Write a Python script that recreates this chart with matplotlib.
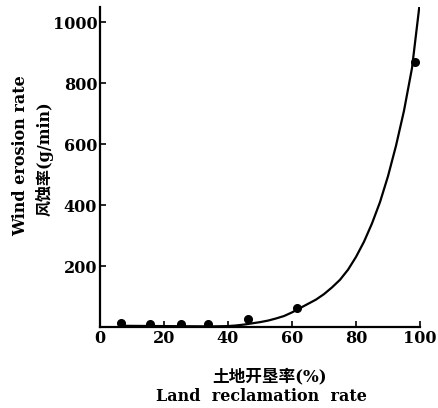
import matplotlib.pyplot as plt

# measured points
rate = [6.5, 15.6, 25.3, 33.8, 46.4, 61.6, 98.4]
erosion = [12, 11, 11, 11, 26, 62, 869]

# fitted curve
curve_x = [6, 20, 35, 40, 42.5, 45, 47.5, 50, 52.5, 55, 57.5, 60, 62.5, 65,
           67.5, 70, 72.5, 75, 77.5, 80, 82.5, 85, 87.5, 90, 92.5, 95, 97.5, 100]
curve_y = [4, 3, 2, 3, 5, 8, 12, 16, 21, 28, 36, 48, 62, 76,
           90, 108, 130, 155, 188, 230, 280, 340, 410, 495, 595, 710, 850, 1070]

xticks = [0, 20, 40, 60, 80, 100]
yticks = [200, 400, 600, 800, 1000]

fam = ['DejaVu Serif', 'Noto Sans CJK SC']

fig = plt.figure(figsize=(4.38, 4.08), dpi=100)
ax = fig.add_axes([0.2283, 0.1985, 0.7306, 0.784])

ax.plot(curve_x, curve_y, color='black', lw=1.6, clip_on=True)
ax.plot(rate, erosion, 'o', color='black', ms=5.5)

ax.set_xlim(0, 100)
ax.set_ylim(0, 1050)
ax.set_xticks(xticks)
ax.set_yticks(yticks)
ax.spines['top'].set_visible(False)
ax.spines['right'].set_visible(False)
for s in ('left', 'bottom'):
    ax.spines[s].set_linewidth(1.6)
ax.tick_params(direction='in', length=4, width=1.2, pad=2)
for lab in ax.get_xticklabels() + ax.get_yticklabels():
    lab.set_family(fam)
    lab.set_fontweight('bold')
    lab.set_fontsize(11.5)

fig.text(0.046, 0.618, 'Wind erosion rate', rotation=90, ha='center', va='center',
         family=fam, fontweight='bold', fontsize=11.5)
fig.text(0.101, 0.61, '风蚀率(g/min)', rotation=90, ha='center', va='center',
         family=fam, fontweight='bold', fontsize=11.5)
fig.text(0.615, 0.076, '土地开垦率(%)', ha='center', va='center',
         family=fam, fontweight='bold', fontsize=12)
fig.text(0.598, 0.027, 'Land  reclamation  rate', ha='center', va='center',
         family=fam, fontweight='bold', fontsize=11.5)

fig.savefig('out.png', dpi=100)
